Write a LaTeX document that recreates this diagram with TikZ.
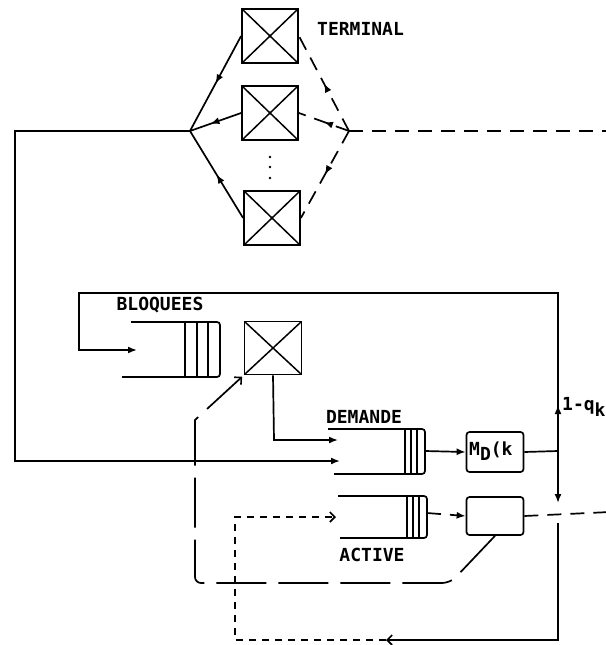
\documentclass[tikz,border=0pt]{standalone}
\usepackage{fontspec}
\setmonofont{DejaVu Sans Mono}
\usetikzlibrary{arrows.meta,decorations.markings}
\tikzset{
  ln/.style={line width=1.7pt},
  srv/.style={draw, line width=1.8pt, minimum width=56pt, minimum height=54pt, inner sep=0pt,
    path picture={\draw[line width=1.5pt] (path picture bounding box.north west) -- (path picture bounding box.south east)
      (path picture bounding box.north east) -- (path picture bounding box.south west);}},
  rbox/.style={draw, line width=1.7pt, rounded corners=3pt, minimum width=57pt, minimum height=40pt, inner sep=0pt},
  tip/.style={-{Latex[length=9pt,width=7pt]}},
  otip/.style={-{Straight Barb[length=5pt,width=10pt,line width=1.6pt]}},
  dsh/.style={dash pattern=on 14pt off 9pt},
  sdsh/.style={dash pattern=on 7pt off 6pt},
  ldsh/.style={dash pattern=on 50pt off 12pt},
  lbl/.style={font=\ttfamily\bfseries\fontsize{18}{18}\selectfont, inner sep=0pt},
  midarr/.style={postaction={decorate}, decoration={markings, mark=at position #1 with {\arrow{Latex[length=9pt,width=7pt]}}}},
}
\begin{document}
\begin{tikzpicture}[x=1pt,y=-1pt]
\useasboundingbox (0,0) rectangle (605,645);

% terminals
\node[srv] (t1) at (270,36) {};
\node[srv] (t2) at (270,113) {};
\node[srv] (t3) at (272,218) {};
\node[lbl, anchor=west] (term) at (317,29) {TERMINAL};
\foreach \yy in {157,167,178} \fill (270,\yy) circle (1.4pt);

\coordinate (jl) at (190,131);
\coordinate (jr) at (349,131);
\coordinate (rE) at (610,131);
\draw[ln, midarr=0.5] (t1.west) -- (jl);
\draw[ln, midarr=0.6] (t2.west) -- (jl);
\draw[ln, midarr=0.5] (t3.west) -- (jl);
\draw[ln, dsh, midarr=0.5] (jr) -- (t1.east);
\draw[ln, dsh, midarr=0.5] (jr) -- (t2.east);
\draw[ln, dsh, midarr=0.5] (jr) -- (t3.east);
\draw[ln, dsh] (jr) -- (rE);

% BLOQUEES queue
\draw[ln, rounded corners=3pt] (131,322) -- (220,322) -- (220,377) -- (122,377);
\foreach \xx in {185,197,208} \draw[ln] (\xx,322) -- (\xx,377);
\coordinate (bqin) at (137,350);
\node[lbl] (bloq) at (160,305) {BLOQUEES};
\node[srv, minimum width=57pt, minimum height=53pt] (bs) at (273,348) {};

% DEMANDE queue
\draw[ln, rounded corners=3pt] (328,429) -- (425,429) -- (425,474) -- (334,474);
\foreach \xx in {405,411,417} \draw[ln] (\xx,429) -- (\xx,474);
\coordinate (dqin1) at (338,440);
\coordinate (dqin2) at (340,461);
\coordinate (dqout) at (425,451);
\node[lbl] (dem) at (364,417) {DEMANDE};

% ACTIVE queue
\draw[ln, rounded corners=3pt] (338,496) -- (427,496) -- (427,538) -- (340,538);
\foreach \xx in {407,413,419} \draw[ln] (\xx,496) -- (\xx,538);
\coordinate (aqin) at (336,517);
\coordinate (aqout) at (427,513);
\node[lbl] (act) at (372,555) {ACTIVE};

% boxes
\node[rbox] (md) at (495,452) {};
\node[lbl, anchor=west] (mdl) at (469,451) {M\raisebox{-5pt}{D}(k};
\node[rbox, minimum height=38pt] (ab) at (495,516) {};

% solid network
\coordinate (jq) at (558,451);
\coordinate (qd) at (558,503);
\coordinate (qu) at (558,523);
\coordinate (qb) at (558,640);
\coordinate (bar) at (386,640);
\draw[ln, tip] (jl) -- (15,131) -- (15,461) -- (dqin2);
\draw[ln, tip] (bs.south) -- (274,440) -- (dqin1);
\draw[ln, tip] (dqout) -- (md.west);
\draw[ln] (md.east) -- (jq);
\draw[ln, tip, midarr=46pt] (jq) -- (558,293) -- (79,293) -- (79,350) -- (bqin);
\node[lbl, anchor=west] (qk) at (562,407) {1-q\raisebox{-6pt}{k}};
\draw[ln, tip] (jq) -- (qd);
\draw[ln, otip] (qu) -- (qb) -- (bar);

% dashed network
\draw[ln, sdsh, otip] (bar) -- (235,640) -- (235,517) -- (aqin);
\draw[ln, dsh, tip] (aqout) -- (ab.west);
\draw[ln, dsh] (ab.east) -- (610,512);
\draw[ln, ldsh, otip, shorten >=2pt] (ab.south) -- (455,578) [rounded corners=6pt] -- (448,583) -- (195,583) [sharp corners] -- (195,420) -- (bs.south west);
\end{tikzpicture}
\end{document}
